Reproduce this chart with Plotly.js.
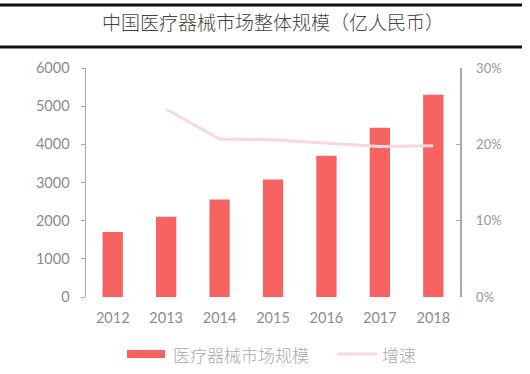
<!DOCTYPE html>
<html><head><meta charset="utf-8">
<script src="https://cdn.plot.ly/plotly-3.0.1.min.js"></script>
<style>html,body{margin:0;padding:0;background:#fff}#c{width:530px;height:374px}</style>
</head><body><div id="c"></div>
<script>
const years = ['2012','2013','2014','2015','2016','2017','2018'];
const marketSize = [1700, 2100, 2556, 3080, 3700, 4435, 5300];
const growth = [null, 24.6, 20.7, 20.6, 20.2, 19.7, 19.8];
const barName = '医疗器械市场规模';
const lineName = '增速';
const titleText = '中国医疗器械市场整体规模（亿人民币）';

const L = 86, R = 460, T = 68, B = 297;
const px = x => (x - L) / (R - L);
const py = y => (B - y) / (B - T);
const gray = '#8c8c8c';
const font = 'Lato, "Noto Sans CJK SC", sans-serif';
const cjk = '"Noto Sans CJK SC", sans-serif';

const data = [
  {type:'bar', x:years, y:marketSize, name:barName, marker:{color:'#F66361'}, width:0.38, showlegend:false},
  {type:'scatter', mode:'lines', x:years, y:growth, yaxis:'y2', name:lineName,
   line:{color:'#F9D7DA', width:3}, connectgaps:false, showlegend:false}
];
const layout = {
  width:530, height:374,
  margin:{l:L, r:530-R, t:T, b:374-B},
  paper_bgcolor:'#fff', plot_bgcolor:'#fff',
  font:{family:font, color:gray, size:14},
  title:{text:titleText, x:0.5, xref:'paper', xanchor:'center', y:1-23/374, yanchor:'middle', yref:'container',
         font:{family:cjk, size:19, weight:300, color:'#444'}},
  xaxis:{type:'category', showline:false, showgrid:false, zeroline:false, ticks:'', tickfont:{size:14.5, color:gray}, ticklabelstandoff:10},
  yaxis:{range:[0,6000], dtick:1000, showgrid:false, zeroline:false, showline:true, linecolor:'#A3AAB2', linewidth:1.5,
         ticks:'outside', ticklen:4, tickcolor:'#A3AAB2', tickfont:{size:14.5, color:gray}, ticklabelstandoff:8},
  yaxis2:{overlaying:'y', side:'right', range:[0,30], dtick:10, ticksuffix:'%', showgrid:false, zeroline:false,
          showline:true, linecolor:'#A3AAB2', linewidth:1.5, ticks:'inside', ticklen:4, tickcolor:'#A3AAB2',
          tickfont:{size:13, color:'#999'}, ticklabelstandoff:12},
  shapes:[
    {type:'line', xref:'paper', yref:'paper', x0:px(0), x1:px(522), y0:py(5), y1:py(5), line:{color:'#111', width:3}},
    {type:'line', xref:'paper', yref:'paper', x0:px(0), x1:px(522), y0:py(47), y1:py(47), line:{color:'#111', width:3}},
    {type:'rect', xref:'paper', yref:'paper', x0:px(127), x1:px(165), y0:py(358), y1:py(350), fillcolor:'#F66361', line:{width:0}},
    {type:'line', xref:'paper', yref:'paper', x0:px(337), x1:px(377), y0:py(354), y1:py(354), line:{color:'#F9D7DA', width:3}}
  ],
  annotations:[
    {xref:'paper', yref:'paper', x:px(171), y:py(354), xanchor:'left', yanchor:'middle', text:barName, showarrow:false,
     font:{family:cjk, size:17, weight:300, color:'#aaa'}},
    {xref:'paper', yref:'paper', x:px(380), y:py(354), xanchor:'left', yanchor:'middle', text:lineName, showarrow:false,
     font:{family:cjk, size:17, weight:300, color:'#aaa'}}
  ]
};
Plotly.newPlot('c', data, layout, {displayModeBar:false, staticPlot:true});
</script></body></html>
